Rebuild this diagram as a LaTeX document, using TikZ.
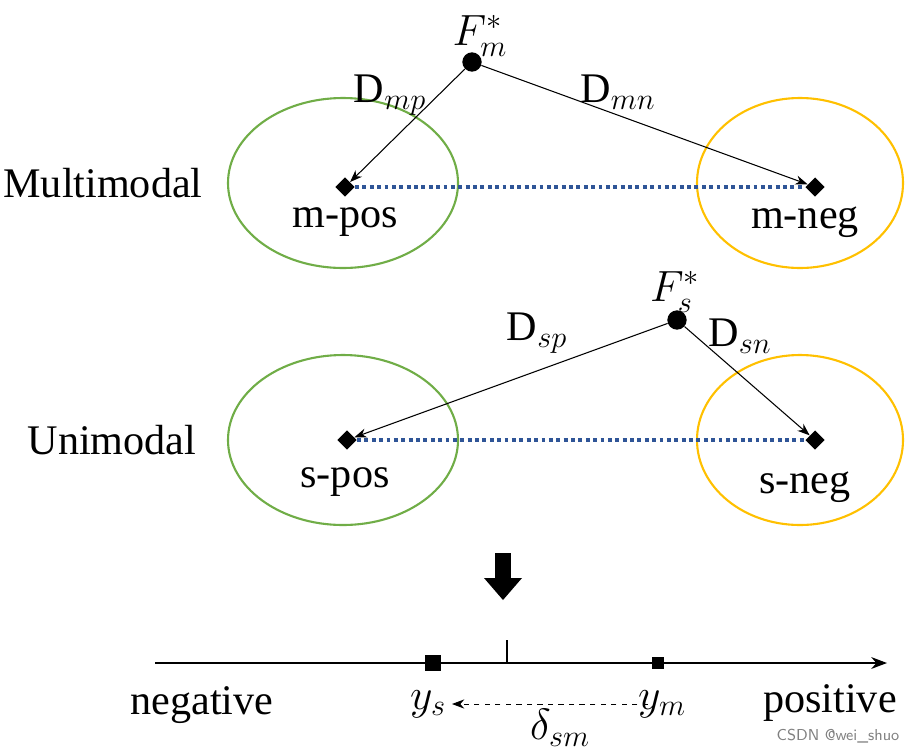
\documentclass[tikz,border=0pt]{standalone}
\usepackage{fontspec}
\setmainfont{Liberation Serif}
\usetikzlibrary{arrows.meta,shapes.geometric}
\definecolor{dotblue}{RGB}{47,85,151}
\definecolor{grn}{RGB}{112,173,71}
\definecolor{yl}{RGB}{255,192,0}
\begin{document}
\begin{tikzpicture}[x=0.02cm,y=-0.02cm,
  lbl/.style={font=\fontsize{24}{28}\selectfont, inner sep=0pt},
  gre/.style={draw=grn, line width=1.2pt},
  yel/.style={draw=yl, line width=1.2pt},
  dia/.style={diamond, fill=black, inner sep=0pt, minimum size=11pt},
  dot/.style={circle, fill=black, inner sep=0pt, minimum size=11pt},
  sq/.style={rectangle, fill=black, inner sep=0pt, minimum size=7pt},
  con/.style={-{Stealth[length=7pt]}, line width=0.6pt},
  blu/.style={draw=dotblue, line width=2.2pt, dotted}]
\useasboundingbox (0,0) rectangle (909,751);
% multimodal
\draw[gre] (343,183) ellipse [x radius=115, y radius=85];
\draw[yel] (800,183) ellipse [x radius=103, y radius=85];
\node[dot] (fm) at (472,62) {};
\node[lbl] at (480,36) {$F_m^*$};
\node[dia] (mp) at (345,187) {};
\node[dia] (mn) at (815,187) {};
\draw[blu] (mp) -- (mn);
\draw[con] (fm) -- (mp);
\draw[con] (fm) -- (mn);
\node[lbl] at (390,95) {D$_{mp}$};
\node[lbl] at (618,92) {D$_{mn}$};
\node[lbl] at (345,222) {m-pos};
\node[lbl] at (805,222) {m-neg};
\node[lbl] at (103,183) {Multimodal};
% unimodal
\draw[gre] (343,440) ellipse [x radius=115, y radius=85];
\draw[yel] (800,440) ellipse [x radius=103, y radius=85];
\node[dot] (fs) at (677,320) {};
\node[lbl] at (675,292) {$F_s^*$};
\node[dia] (sp) at (347,440) {};
\node[dia] (sn) at (815,440) {};
\draw[blu] (sp) -- (sn);
\draw[con] (fs) -- (sp);
\draw[con] (fs) -- (sn);
\node[lbl] at (537,333) {D$_{sp}$};
\node[lbl] at (740,336) {D$_{sn}$};
\node[lbl] at (345,482) {s-pos};
\node[lbl] at (805,487) {s-neg};
\node[lbl] at (112,440) {Unimodal};
% big arrow
\fill (495,553) rectangle (511,580);
\fill (484,578) -- (522,578) -- (503,600) -- cycle;
% axis
\coordinate (a0) at (155,663);
\coordinate (a1) at (887,663);
\draw[-{Stealth[length=9pt]}, line width=0.7pt] (a0) -- (a1);
\coordinate (t0) at (507,640);
\coordinate (t1) at (507,663);
\draw[line width=0.6pt] (t0) -- (t1);
\node[sq, minimum size=9pt] (ys) at (433,663) {};
\node[sq] (ym) at (658,663) {};
\node[lbl] (lys) at (428,704) {$y_s$};
\node[lbl] (lym) at (662,704) {$y_m$};
\coordinate (d0) at (648,704);
\coordinate (d1) at (452,704);
\draw[-{Stealth[length=7pt]}, dashed, line width=0.5pt] (d0) -- (d1);
\node[lbl] at (560,728) {$\delta_{sm}$};
\node[lbl] at (202,705) {negative};
\node[lbl] at (830,703) {positive};
\node[font=\fontsize{9}{10}\selectfont\sffamily, text=gray, inner sep=0pt] at (838,736) {CSDN @wei\_shuo};
\end{tikzpicture}
\end{document}
